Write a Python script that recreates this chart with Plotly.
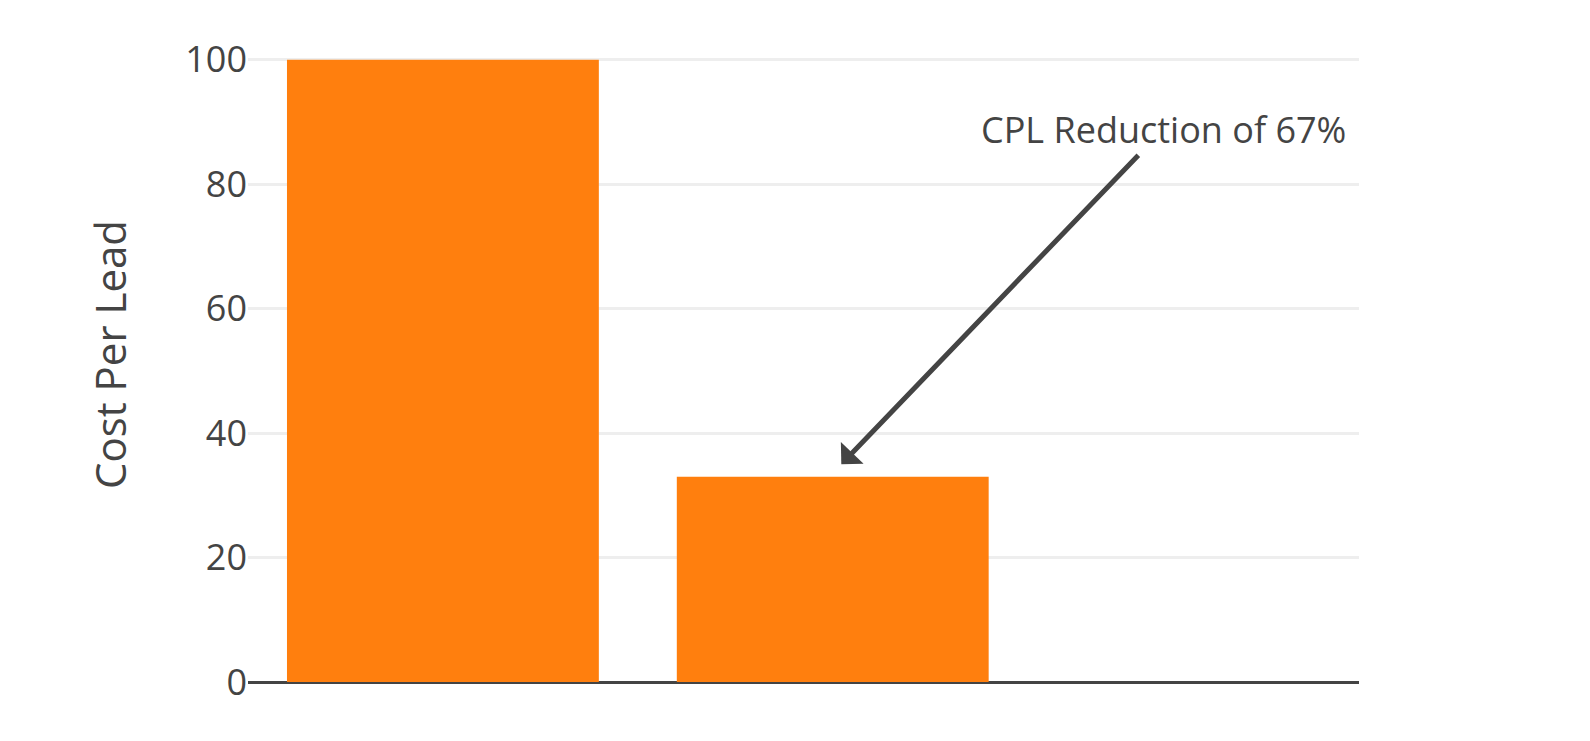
import plotly.graph_objects as go

# Data
bar_positions = [0, 1]
cost_per_lead = [100, 33]
y_ticks = [0, 20, 40, 60, 80, 100]

annotation_text = "CPL Reduction of 67%"
annotation_x = 1.022
annotation_y = 35

fig = go.Figure()
fig.add_trace(go.Bar(
    x=bar_positions,
    y=cost_per_lead,
    marker=dict(color="#ff7f0e", line=dict(width=0)),
    width=0.8,
    showlegend=False,
))

fig.add_annotation(
    x=annotation_x, y=annotation_y, xref="x", yref="y",
    text=annotation_text,
    showarrow=True,
    arrowhead=1,
    arrowsize=1.05,
    arrowwidth=5,
    arrowcolor="#444",
    ax=322, ay=-335,
    font=dict(family="Open Sans", size=36, color="#444"),
)

fig.update_layout(
    width=1590, height=741,
    margin=dict(l=240, r=239, t=19, b=67),
    paper_bgcolor="white",
    plot_bgcolor="white",
    font=dict(family="Open Sans", color="#444", size=36),
    xaxis=dict(
        range=[-0.5, 2.35],
        showgrid=False,
        showticklabels=False,
        zeroline=False,
        showline=False,
        ticks="",
    ),
    yaxis=dict(
        range=[0, 105.263],
        tickvals=y_ticks,
        showgrid=True,
        gridcolor="#eeeeee",
        gridwidth=3,
        zeroline=True,
        zerolinecolor="#444",
        zerolinewidth=3,
        showline=False,
        ticks="",
        tickfont=dict(family="Open Sans", size=36, color="#444"),
        title=dict(text="Cost Per Lead", standoff=45,
                   font=dict(family="Open Sans", size=42, color="#444")),
    ),
)

fig.write_html("out.html")
